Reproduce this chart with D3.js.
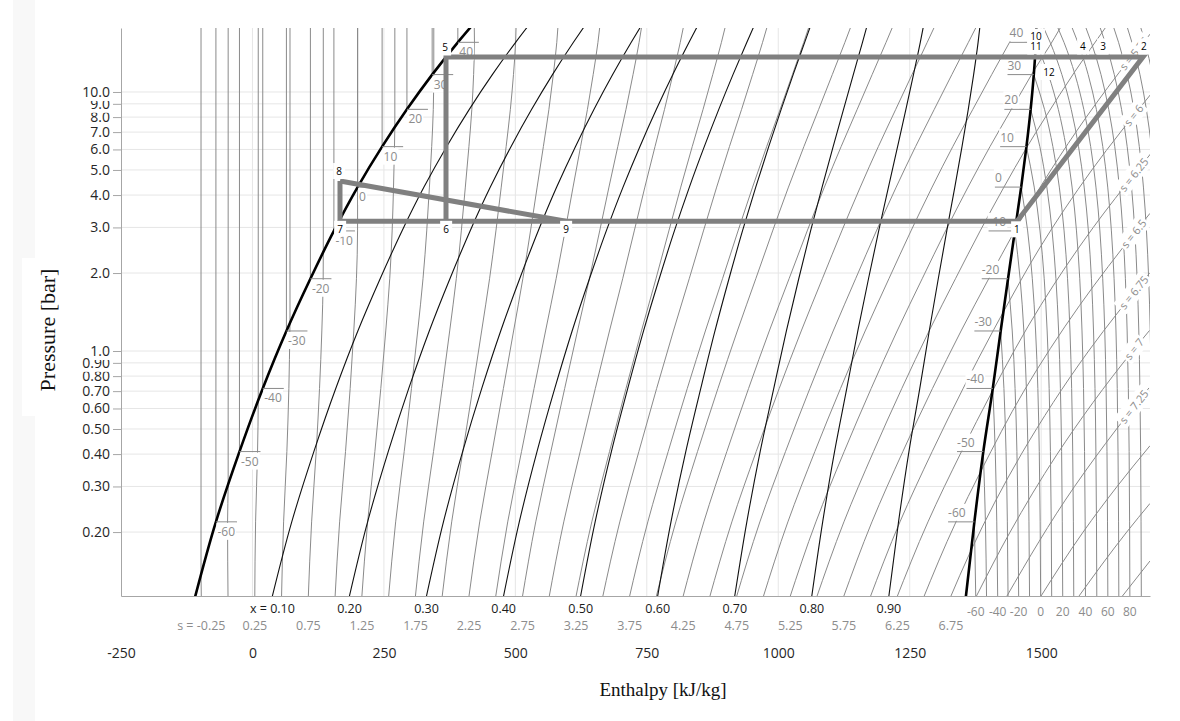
<!DOCTYPE html>
<html>
<head>
<meta charset="utf-8">
<title>log p-h</title>
<script src="https://cdn.jsdelivr.net/npm/d3@7/dist/d3.min.js"></script>
<style>
  body { margin: 0; background: #fff; }
  svg text { font-family: "Open Sans", "DejaVu Sans", sans-serif; }
  svg text.serif { font-family: "Liberation Serif", "DejaVu Serif", serif; }
</style>
</head>
<body>
<svg id="chart" width="1180" height="721"></svg>
<script>
// ---- saturation table ----
var satT  = [-70, -60, -50, -40, -30, -20, -10, 0, 10, 20, 30, 40, 45];
var satP  = [0.109, 0.219, 0.409, 0.717, 1.195, 1.901, 2.908, 4.294, 6.15, 8.57, 11.67, 15.55, 17.82];
var satHf = [-110.8, -69.5, -24.7, 19.6, 64.6, 110.2, 154.9, 200, 246.6, 293.8, 341.8, 390.6, 415.2];
var satHg = [1356, 1373, 1390, 1408, 1423, 1437, 1450, 1462, 1472, 1480, 1486, 1490, 1491];
var satSf = [-0.317, -0.104, 0.096, 0.287, 0.473, 0.654, 0.829, 1.0, 1.167, 1.329, 1.49, 1.649, 1.729];
var satSg = [6.903, 6.664, 6.436, 6.242, 6.06, 5.895, 5.751, 5.62, 5.495, 5.375, 5.264, 5.16, 5.11];

var qualities = [0.1, 0.2, 0.3, 0.4, 0.5, 0.6, 0.7, 0.8, 0.9];
var entropies = [-0.25, 0, 0.25, 0.5, 0.75, 1, 1.25, 1.5, 1.75, 2, 2.25, 2.5, 2.75, 3, 3.25, 3.5,
                 3.75, 4, 4.25, 4.5, 4.75, 5, 5.25, 5.5, 5.75, 6, 6.25, 6.5, 6.75, 7, 7.25, 7.5, 7.75, 8];
var liqIsoT = [-60, -50, -40, -30, -20, -10, 0, 10, 20, 30, 40];

// superheated part of the isentropes: h [kJ/kg] at p [bar]
var vapIsenS = [5.25, 5.5, 5.75, 6, 6.25, 6.5, 6.75, 7, 7.25, 7.5, 7.75, 8];
var vapIsenP = [
  [15, 17.66], [8, 12, 17.66], [5, 8, 13.6, 17.66], [2.5, 5, 10], [1.5, 3, 5, 5.9],
  [0.7, 1.5, 3, 3.4], [0.4, 1, 2], [0.1133, 0.2, 0.4, 1, 1.2], [0.1133, 0.3, 0.5, 0.72],
  [0.1133, 0.2, 0.3, 0.431], [0.1133, 0.2, 0.258], [0.1133, 0.1547]
];
var vapIsenH = [
  [1515.6, 1536.2], [1508.2, 1564.3, 1621.8], [1518.6, 1585.9, 1670.9, 1717], [1497.3, 1596.4, 1712],
  [1499.1, 1599.1, 1683.5, 1712], [1467.1, 1573.1, 1685.6, 1707], [1462.4, 1590.2, 1706.2],
  [1377, 1440.9, 1530.5, 1673.9, 1706], [1434.9, 1563.5, 1643.4, 1705],
  [1499.8, 1579.8, 1644.4, 1707], [1572, 1662.7, 1707], [1654.6, 1707]
];
var entropyLabelS = [5.75, 6, 6.25, 6.5, 6.75, 7, 7.25];

// superheated isotherms: h at the pressure grid, each list ends at the lowest pressure
var vapGridP = [17.66, 15.55, 11.67, 8.57, 6.15, 4.294, 2.908, 1.901, 1.195, 0.717, 0.409, 0.219, 0.1133];
var vapIsoT = [-60, -50, -40, -30, -20, -10, 0, 10, 20, 30, 40, 50, 60, 70, 80, 90, 100, 110, 120];
var vapIsoH = [
  [1373, 1375.6],
  [1390, 1394, 1396.1],
  [1408, 1412.7, 1415.6, 1417.3],
  [1423, 1429.2, 1433.2, 1435.7, 1437],
  [1437, 1445, 1450.4, 1453.9, 1456, 1457.2],
  [1450, 1460, 1467.1, 1471.9, 1474.9, 1476.8, 1477.9],
  [1462, 1474.3, 1483.2, 1489.4, 1493.7, 1496.4, 1498.1, 1499],
  [1472, 1486.8, 1497.8, 1505.8, 1511.4, 1515.2, 1517.6, 1519.2, 1520],
  [1480, 1497.5, 1510.8, 1520.8, 1528.1, 1533.2, 1536.6, 1538.9, 1540.2, 1541],
  [1486, 1506.4, 1522.3, 1534.5, 1543.6, 1550.2, 1554.8, 1558, 1560, 1561.3, 1562],
  [1490, 1513.7, 1532.6, 1547.4, 1558.8, 1567.2, 1573.4, 1577.7, 1580.6, 1582.5, 1583.7, 1584.3],
  [1504.9, 1517.1, 1539.4, 1557.2, 1571.1, 1581.8, 1589.8, 1595.6, 1599.6, 1602.4, 1604.1, 1605.2, 1605.8],
  [1532, 1543.4, 1564.4, 1581.1, 1594.2, 1604.2, 1611.7, 1617.1, 1621, 1623.5, 1625.2, 1626.2, 1626.8],
  [1559.1, 1569.8, 1589.4, 1605, 1617.2, 1626.6, 1633.6, 1638.7, 1642.3, 1644.7, 1646.2, 1647.2, 1647.7],
  [1585.3, 1595.3, 1613.8, 1628.5, 1640, 1648.8, 1655.4, 1660.2, 1663.5, 1665.8, 1667.3, 1668.2, 1668.7],
  [1612.4, 1621.8, 1639.1, 1652.9, 1663.6, 1671.9, 1678.1, 1682.5, 1685.7, 1687.8, 1689.2, 1690, 1690.5],
  [1638.3, 1647.2, 1663.5, 1676.5, 1686.7, 1694.5, 1700.3, 1704.5, 1707.5, 1709.5, 1710.8, 1711.6, 1712],
  [1664.2, 1672.6, 1687.9, 1700.1, 1709.7, 1717, 1722.5, 1726.5, 1729.3, 1731.2, 1732.4, 1733.1, 1733.6],
  [1689.7, 1697.5, 1711.8, 1723.3, 1732.2, 1739.1, 1744.2, 1748, 1750.6, 1752.3, 1753.5, 1754.2, 1754.6]
];
var bottomTempLabels = [-60, -40, -20, 0, 20, 40, 60, 80];

// refrigeration cycle state points
var cycleId = ["1", "2", "3", "4", "5", "6", "7", "8", "9", "10", "11", "12"];
var cycleH  = [1454, 1693.6, 1617.6, 1579.5, 368.1, 368.1, 166.5, 166.5, 596.3, 1490.1, 1490.1, 1486.3];
var cycleP  = [3.167, 13.65, 13.65, 13.65, 13.65, 3.167, 3.167, 4.531, 3.167, 13.65, 13.65, 11.63];
var cyclePaths = [["8", "7", "1", "2", "5", "6"], ["8", "9"]];

// axis ticks
var pTicks = [0.2, 0.3, 0.4, 0.5, 0.6, 0.7, 0.8, 0.9, 1, 2, 3, 4, 5, 6, 7, 8, 9, 10];
var hTicks = [-250, 0, 250, 500, 750, 1000, 1250, 1500];

// ---- layout ----
var W = 1180, H = 721;
var M = { left: 121, right: 1150, top: 28, bottom: 596 };
var GRAY = "#8a8a8a", GRID = "#e6e6e6", AXIS = "#a6a6a6", LABEL = "#8c8c8c";

var svg = d3.select("#chart");
var x = d3.scaleLinear().domain([-250, 1707]).range([M.left, M.right]);
var y = d3.scaleLog().domain([0.1133, 17.66]).range([M.bottom, M.top]);
var pBottom = y.domain()[0], pOver = 18.5;
var num = function(v){ return String(v).replace("\u2212", "-"); };

svg.append("rect").attr("x", 13).attr("y", 0).attr("width", 22).attr("height", H).attr("fill", "#f8f8f8");
svg.append("rect").attr("x", 22).attr("y", 258).attr("width", 45).attr("height", 158).attr("fill", "#fff");

svg.append("defs").append("clipPath").attr("id", "clip")
  .append("rect").attr("x", M.left).attr("y", M.top)
  .attr("width", M.right - M.left).attr("height", M.bottom - M.top);

// grid
var grid = svg.append("g");
grid.selectAll("line.gy").data(pTicks).enter().append("line")
  .attr("x1", M.left).attr("x2", M.right)
  .attr("y1", function(d){ return y(d); }).attr("y2", function(d){ return y(d); })
  .attr("stroke", GRID);
grid.selectAll("line.gx").data(hTicks.slice(1)).enter().append("line")
  .attr("y1", M.top).attr("y2", M.bottom)
  .attr("x1", function(d){ return x(d); }).attr("x2", function(d){ return x(d); })
  .attr("stroke", GRID);

// ---- helpers on the saturation table ----
function crossIndex(arr, v) {
  for (var i = 0; i < arr.length - 1; i++) {
    var a = arr[i], b = arr[i + 1];
    if (a !== b && (v - a) * (v - b) <= 0) return i + (v - a) / (b - a);
  }
  return -1;
}
function satAt(fi) {
  var i = Math.min(Math.floor(fi), satT.length - 2), f = fi - i;
  function lerp(a){ return a[i] + f * (a[i + 1] - a[i]); }
  return {
    P: Math.exp(Math.log(satP[i]) + f * (Math.log(satP[i + 1]) - Math.log(satP[i]))),
    hf: lerp(satHf), hg: lerp(satHg), sf: lerp(satSf), sg: lerp(satSg)
  };
}
function hAtS(st, s) { return st.hf + (s - st.sf) / (st.sg - st.sf) * (st.hg - st.hf); }
var bottomSat = satAt(crossIndex(satP.map(Math.log), Math.log(pBottom)));

function isentropePoints(s) {
  var n = satT.length, pts = [], start = -1, cross = false;
  var k = vapIsenS.indexOf(s);
  if (k >= 0) for (var j = vapIsenP[k].length - 1; j >= 0; j--) pts.push([vapIsenH[k][j], vapIsenP[k][j]]);
  if (s < satSf[n - 1]) {
    start = crossIndex(satSf, s);
    var c = satAt(start);
    pts.push([c.hf, pOver], [c.hf, c.P]);
    cross = true;
  } else if (s > satSg[n - 1]) {
    start = crossIndex(satSg, s);
    if (start >= 0) { var c2 = satAt(start); pts.push([c2.hg, c2.P]); cross = true; }
  } else {
    start = n - 1;
  }
  if (start < 0) return pts;
  var first = cross ? (Number.isInteger(start) ? start - 1 : Math.floor(start)) : start;
  for (var i = first; i >= 0; i--) {
    pts.push([satHf[i] + (s - satSf[i]) / (satSg[i] - satSf[i]) * (satHg[i] - satHf[i]), satP[i]]);
  }
  return pts;
}

var curveLine = d3.line()
  .x(function(d){ return x(d[0]); })
  .y(function(d){ return y(d[1]); })
  .curve(d3.curveMonotoneY);
var straight = d3.line()
  .x(function(d){ return x(d[0]); })
  .y(function(d){ return y(d[1]); });

var plot = svg.append("g").attr("clip-path", "url(#clip)");

// liquid isotherms
plot.selectAll("path.liq").data(liqIsoT).enter().append("path")
  .attr("d", function(t){ var i = satT.indexOf(t); return straight([[satHf[i], satP[i]], [satHf[i], pOver]]); })
  .attr("fill", "none").attr("stroke", GRAY).attr("stroke-width", 1);

// superheated isotherms
plot.selectAll("path.vap").data(vapIsoT).enter().append("path")
  .attr("d", function(t, k){
    var arr = vapIsoH[k], off = vapGridP.length - arr.length;
    return curveLine(arr.map(function(h, j){ return [h, vapGridP[off + j]]; }));
  })
  .attr("fill", "none").attr("stroke", GRAY).attr("stroke-width", 1);

// isentropes
var isenPaths = plot.selectAll("path.isen").data(entropies).enter().append("path")
  .attr("class", "isen")
  .attr("d", function(s){ return curveLine(isentropePoints(s)); })
  .attr("fill", "none").attr("stroke", GRAY).attr("stroke-width", 1);

// quality lines
plot.selectAll("path.q").data(qualities).enter().append("path")
  .attr("d", function(q){
    var pts = [];
    for (var i = satT.length - 1; i >= 0; i--) pts.push([satHf[i] + q * (satHg[i] - satHf[i]), satP[i]]);
    return curveLine(pts);
  })
  .attr("fill", "none").attr("stroke", "#111").attr("stroke-width", 1.1);

// saturation lines
[satHf, satHg].forEach(function(arr){
  var pts = [];
  for (var i = satT.length - 1; i >= 0; i--) pts.push([arr[i], satP[i]]);
  plot.append("path").attr("d", curveLine(pts))
    .attr("fill", "none").attr("stroke", "#000").attr("stroke-width", 2.6);
});

// label with white box
function boxedText(g, tx, ty, str, opts) {
  var t = g.append("text").attr("x", tx).attr("y", ty).text(str)
    .attr("font-size", opts.size).attr("fill", opts.color)
    .attr("text-anchor", opts.anchor || "start");
  var b = t.node().getBBox(), px = opts.padX || 1, py = opts.padY || 0;
  (opts.boxLayer || g).insert("rect", opts.boxLayer ? null : function(){ return t.node(); })
    .attr("x", b.x - px).attr("y", b.y - py)
    .attr("width", b.width + 2 * px).attr("height", b.height + 2 * py)
    .attr("fill", "#fff");
  return t;
}

// temperature ticks at the saturation curves
var tempG = plot.append("g");
liqIsoT.forEach(function(t){
  var i = satT.indexOf(t);
  tempG.append("path").attr("d", straight([[satHf[i], satP[i]], [satHf[i] + 40, satP[i]]]))
    .attr("stroke", GRAY).attr("stroke-width", 1);
  boxedText(tempG, x(satHf[i]) + 1.5, y(satP[i]) + 14, num(t), { size: 12, color: LABEL });
  tempG.append("path").attr("d", straight([[satHg[i] - 50, satP[i]], [satHg[i], satP[i]]]))
    .attr("stroke", GRAY).attr("stroke-width", 1);
  boxedText(tempG, x(satHg[i] - 50), y(satP[i]) - 5, num(t), { size: 12, color: LABEL });
});

// rotated entropy labels near the right edge
isenPaths.filter(function(s){ return entropyLabelS.indexOf(s) >= 0; }).each(function(s){
  var node = this, L = node.getTotalLength(), best = 0, bd = 1e9;
  for (var l = 0; l <= L; l += 1) {
    var p = node.getPointAtLength(l), d = Math.abs(p.x - 1134);
    if (d < bd) { bd = d; best = l; }
  }
  var c = node.getPointAtLength(best),
      a = node.getPointAtLength(Math.max(0, best - 5)),
      b = node.getPointAtLength(Math.min(L, best + 5));
  var ang = Math.atan2(a.y - b.y, a.x - b.x) * 180 / Math.PI;
  if (ang > 90 || ang < -90) ang += 180;
  var g = plot.append("g").attr("transform", "translate(" + c.x + "," + c.y + ") rotate(" + ang + ")");
  boxedText(g, 0, 4, "s = " + s, { size: 11, color: LABEL, anchor: "middle", padX: 2, padY: 1 });
});

// ---- axes ----
var fmtP = function(d){ return d < 1 ? d3.format(".2f")(d) : d3.format(".1f")(d); };
var yAxis = svg.append("g").attr("transform", "translate(" + M.left + ",0)")
  .call(d3.axisLeft(y).tickValues(pTicks).tickFormat(fmtP).tickSize(8).tickSizeOuter(0).tickPadding(3));
yAxis.select(".domain").attr("stroke", AXIS);
yAxis.selectAll(".tick line").attr("stroke", AXIS);
yAxis.selectAll(".tick text").attr("font-size", 14).attr("fill", "#262626")
  .attr("font-family", "'Open Sans', sans-serif");
yAxis.selectAll(".tick").each(function(){
  var g = d3.select(this), t = g.select("text"), b = t.node().getBBox();
  g.insert("rect", "text").attr("x", b.x - 1).attr("y", b.y)
    .attr("width", b.width + 2).attr("height", b.height).attr("fill", "#fff");
});

var xAxis = svg.append("g").attr("transform", "translate(0," + M.bottom + ")")
  .call(d3.axisBottom(x).tickValues(hTicks).tickFormat(function(d){ return num(d); })
    .tickSize(0).tickSizeOuter(0).tickPadding(52));
xAxis.select(".domain").attr("stroke", AXIS);
xAxis.selectAll(".tick text").attr("font-size", 14).attr("fill", "#262626")
  .attr("font-family", "'Open Sans', sans-serif");

// bottom labels: quality, entropy, temperature
var lab = svg.append("g");
var fmt2 = function(v){ return num(d3.format(".2f")(v)); };
qualities.forEach(function(q, i){
  var h = bottomSat.hf + q * (bottomSat.hg - bottomSat.hf);
  lab.append("text").attr("x", x(h)).attr("y", 613).attr("text-anchor", "middle")
    .attr("font-size", 12.5).attr("fill", "#1a1a1a")
    .text((i === 0 ? "x = " : "") + fmt2(q));
});
entropies.filter(function(s, i){ return s <= 6.75 && i % 2 === 0; }).forEach(function(s, i){
  lab.append("text").attr("x", x(hAtS(bottomSat, s))).attr("y", 629.5).attr("text-anchor", "middle")
    .attr("font-size", 12.5).attr("fill", LABEL)
    .text((i === 0 ? "s = " : "") + fmt2(s));
});
bottomTempLabels.forEach(function(t){
  var arr = vapIsoH[vapIsoT.indexOf(t)];
  lab.append("text").attr("x", x(arr[arr.length - 1])).attr("y", 616).attr("text-anchor", "middle")
    .attr("font-size", 12).attr("fill", LABEL).text(num(t));
});

// ---- cycle ----
var cyc = {};
cycleId.forEach(function(id, i){ cyc[id] = [cycleH[i], cycleP[i]]; });
var cycG = svg.append("g");
cyclePaths.forEach(function(p){
  cycG.append("path").attr("d", straight(p.map(function(id){ return cyc[id]; })))
    .attr("fill", "none").attr("stroke", "#808080").attr("stroke-width", 5)
    .attr("stroke-linejoin", "miter");
});
var cycleLabelOffset = {
  "1": [0, 12], "2": [1, -6.5], "3": [0, -6.5], "4": [0, -6.5], "5": [-1, -5.5], "6": [0, 11.5],
  "7": [0, 11.5], "8": [-1, -6], "9": [0, 11.5], "10": [0, -16.5], "11": [0, -6.5], "12": [15, 1]
};
var cycBoxes = cycG.append("g"), cycTexts = cycG.append("g");
cycleId.forEach(function(id){
  var o = cycleLabelOffset[id];
  boxedText(cycTexts, x(cyc[id][0]) + o[0], y(cyc[id][1]) + o[1], id,
    { size: 10, color: "#000", anchor: "middle", padX: 3, padY: 1, boxLayer: cycBoxes });
});

// axis titles
svg.append("text").attr("class", "serif").attr("x", 663).attr("y", 696)
  .attr("text-anchor", "middle").attr("font-size", 19).attr("fill", "#111").text("Enthalpy [kJ/kg]");
svg.append("text").attr("class", "serif")
  .attr("transform", "translate(55,330) rotate(-90)")
  .attr("text-anchor", "middle").attr("font-size", 22).attr("fill", "#111").text("Pressure [bar]");
</script>
</body>
</html>
